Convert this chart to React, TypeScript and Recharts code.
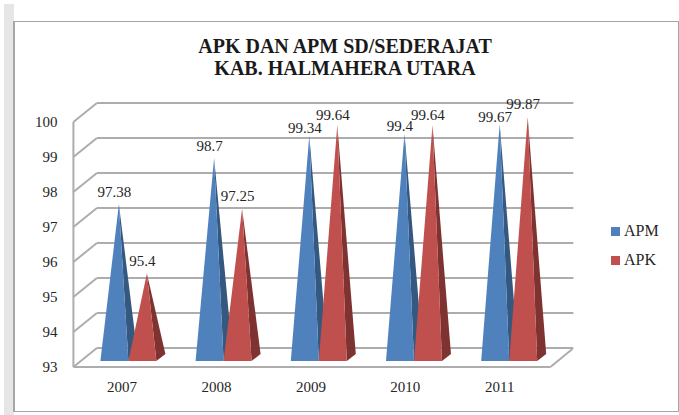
import { Bar, BarChart, CartesianGrid, LabelList, XAxis, YAxis } from 'recharts';

const years = ['2007', '2008', '2009', '2010', '2011'];
const apm = [97.38, 98.7, 99.34, 99.4, 99.67];
const apk = [95.4, 97.25, 99.64, 99.64, 99.87];
const yTicks = [93, 94, 95, 96, 97, 98, 99, 100];

const data = years.map((year, i) => ({ year, APM: apm[i], APK: apk[i] }));

const FONT = '"Liberation Serif", serif';
const TEXT = '#262626';
const GRID = '#adadad';

// Pseudo-3D pyramid: front triangle and a darker side face
function pyramid(front: string, side: string) {
  return (props: any) => {
    const { x, y, width, height } = props;
    const bottom = y + height;
    const apexX = x + width / 2 + 4.5;
    const apexY = y - 3.5;
    return (
      <g>
        <polygon
          points={`${x + width},${bottom} ${x + width + 9},${bottom - 7} ${apexX},${apexY}`}
          fill={side}
        />
        <polygon points={`${x},${bottom} ${x + width},${bottom} ${apexX},${apexY}`} fill={front} />
      </g>
    );
  };
}

// Each grid value draws as wall diagonal + back line; the floor gets its front edge too
function gridLine(props: any) {
  const { y1, x1, x2 } = props;
  const wallX = x1 - 7;
  const backX = x1 + 16.5;
  const endX = x2 + 17;
  const isFloor = y1 > 350;
  return (
    <g key={`grid-${y1}`} stroke={GRID} strokeWidth={2} fill="none">
      <line x1={wallX} y1={y1 + 6} x2={backX} y2={y1 - 13} />
      <line x1={backX} y1={y1 - 13} x2={endX} y2={y1 - 13} />
      {isFloor && <line x1={wallX} y1={y1 + 6} x2={x2 - 6} y2={y1 + 6} />}
      {isFloor && <line x1={x2 - 6} y1={y1 + 6} x2={endX - 1} y2={y1 - 12} />}
      {isFloor && <line x1={wallX} y1={y1 + 6} x2={wallX} y2={y1 - 239} />}
    </g>
  );
}

function YTick({ x, y, payload }: any) {
  return (
    <text x={x - 17} y={y + 6} dy={5} textAnchor="end" fontFamily={FONT} fontSize={15} fill={TEXT}>
      {payload.value}
    </text>
  );
}

function XTick({ x, payload, index }: any) {
  return (
    <text x={x - 6 - index * 0.75} y={387} dy={5} textAnchor="middle" fontFamily={FONT} fontSize={15} fill={TEXT}>
      {payload.value}
    </text>
  );
}

function valueLabel(lift: (v: number) => number) {
  return (props: any) => {
    const { x, y, width, value } = props;
    return (
      <text
        x={x + width / 2}
        y={y - lift(value)}
        dy={5}
        textAnchor="middle"
        fontFamily={FONT}
        fontSize={15}
        fill={TEXT}
      >
        {value}
      </text>
    );
  };
}

const legendItems = [
  { name: 'APM', color: '#4f81bd' },
  { name: 'APK', color: '#c0504d' },
];

export default function App() {
  return (
    <div style={{ position: 'absolute', left: 0, top: 0, width: 679, height: 415, background: '#fff', overflow: 'hidden' }}>
      {/* page strip and chart frame */}
      <div style={{ position: 'absolute', left: 4, top: 4, width: 10, height: 411, background: '#e6e6e6' }} />
      <div
        style={{
          position: 'absolute',
          left: 13,
          top: 21,
          width: 663,
          height: 389,
          border: '1px solid #a6a6a6',
          borderLeftWidth: 2,
          borderTopWidth: 1,
        }}
      />

      <div
        style={{
          position: 'absolute',
          left: 0,
          top: 35,
          width: 690,
          textAlign: 'center',
          fontFamily: FONT,
          fontWeight: 700,
          fontSize: 20,
          lineHeight: '22px',
          color: '#1a1a1a',
        }}
      >
        APK DAN APM SD/SEDERAJAT
        <br />
        KAB. HALMAHERA UTARA
      </div>

      <div style={{ position: 'absolute', left: 0, top: 0 }}>
        <BarChart
          width={679}
          height={415}
          data={data}
          margin={{ top: 116, right: 122.6, bottom: 14, left: 20 }}
          barCategoryGap="21%"
          barGap={0}
        >
          <CartesianGrid vertical={false} horizontal={gridLine} />
          <XAxis
            dataKey="year"
            axisLine={false}
            tickLine={false}
            height={40}
            tick={XTick}
            tickMargin={0}
            interval={0}
          />
          <YAxis
            domain={[93, 100]}
            ticks={yTicks}
            axisLine={false}
            tickLine={false}
            width={60.4}
            tick={YTick}
            tickMargin={0}
            interval={0}
          />
          <Bar dataKey="APM" isAnimationActive={false} shape={pyramid('#4f81bd', '#34587f')}>
            <LabelList dataKey="APM" content={valueLabel((v) => (v > 99 ? 11 : 16))} />
          </Bar>
          <Bar dataKey="APK" isAnimationActive={false} shape={pyramid('#c0504d', '#7f3331')}>
            <LabelList dataKey="APK" content={valueLabel((v) => (v > 99.7 ? 17 : v > 99 ? 14 : 16))} />
          </Bar>
        </BarChart>
      </div>

      {legendItems.map((item, i) => (
        <div
          key={item.name}
          style={{
            position: 'absolute',
            left: 611,
            top: 221 + i * 29,
            height: 20,
            display: 'flex',
            alignItems: 'center',
            fontFamily: FONT,
            fontSize: 16,
            color: TEXT,
          }}
        >
          <span style={{ width: 9, height: 9, background: item.color, marginRight: 4 }} />
          {item.name}
        </div>
      ))}
    </div>
  );
}
